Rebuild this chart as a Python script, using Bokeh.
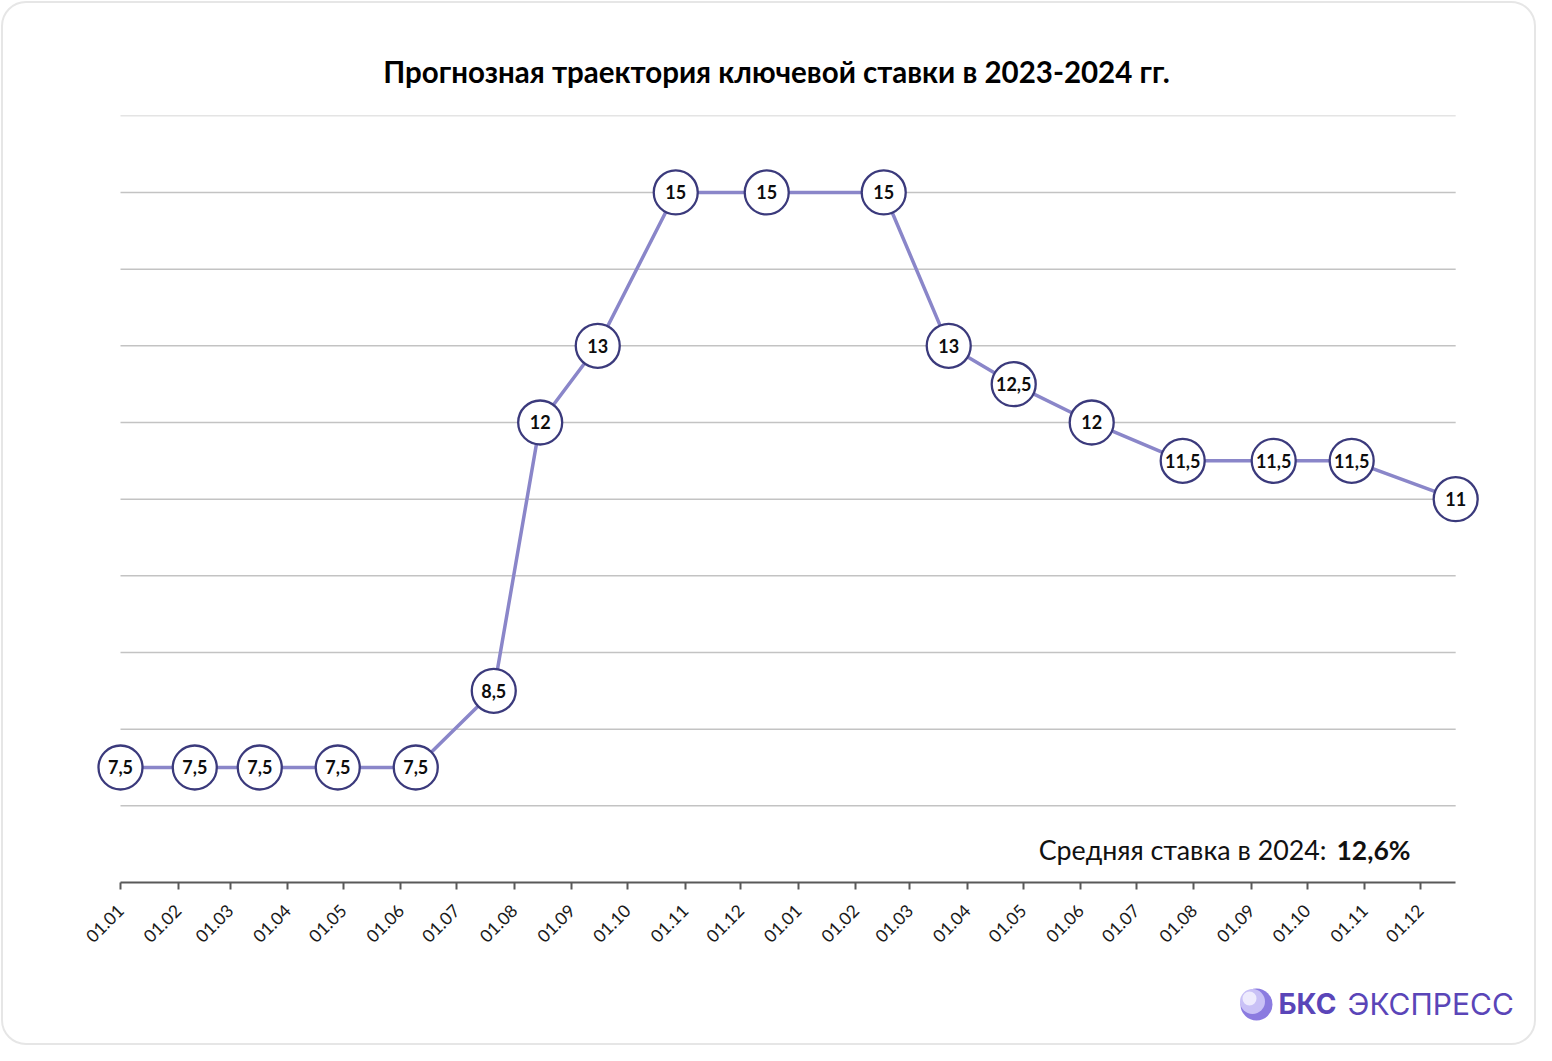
import pandas as pd
from math import pi
from bokeh.plotting import figure
from bokeh.models import Range1d, FixedTicker, DatetimeTickFormatter, Label, ColumnDataSource
from bokeh.core.properties import value
from bokeh.embed import file_html
from bokeh.resources import INLINE

# ---------------- data ----------------
dates = ["2023-01-01", "2023-02-10", "2023-03-17", "2023-04-28", "2023-06-09",
         "2023-07-21", "2023-08-15", "2023-09-15", "2023-10-27", "2023-12-15",
         "2024-02-16", "2024-03-22", "2024-04-26", "2024-06-07", "2024-07-26",
         "2024-09-13", "2024-10-25", "2024-12-20"]
rates = [7.5, 7.5, 7.5, 7.5, 7.5, 8.5, 12, 13, 15, 15, 15, 13, 12.5, 12, 11.5, 11.5, 11.5, 11]
rate_labels = ["7,5", "7,5", "7,5", "7,5", "7,5", "8,5", "12", "13", "15", "15",
               "15", "13", "12,5", "12", "11,5", "11,5", "11,5", "11"]
tick_dates = ["2023-01-01", "2023-02-01", "2023-03-01", "2023-04-01", "2023-05-01", "2023-06-01",
              "2023-07-01", "2023-08-01", "2023-09-01", "2023-10-01", "2023-11-01", "2023-12-01",
              "2024-01-01", "2024-02-01", "2024-03-01", "2024-04-01", "2024-05-01", "2024-06-01",
              "2024-07-01", "2024-08-01", "2024-09-01", "2024-10-01", "2024-11-01", "2024-12-01"]
grid_levels = [7, 8, 9, 10, 11, 12, 13, 14, 15]
top_level = [16]
axis_level = 6
title_text = "Прогнозная траектория ключевой ставки в 2023-2024 гг."
avg_text = "Средняя ставка в 2024:"
avg_value = "12,6%"
brand_bold = "БКС"
brand_light = "ЭКСПРЕСС"

# ---------------- helpers (layout) ----------------
W, H = 1536, 1045

def ms(d):
    return pd.Timestamp(d).value / 1e6

T0 = ms("2023-01-01")
PPD = 1.857      # px per day
X0 = 120         # px of 2023-01-01
PPU = 76.67      # px per rate unit
Y0 = 882         # px of rate 6

def fx(px):
    return T0 + (px - X0) / PPD * 86400000.0

def fy(py):
    return axis_level + (Y0 - py) / PPU

xs = [ms(d) for d in dates]
x_first, x_last = xs[0], xs[-1]

src = ColumnDataSource(dict(x=xs, y=rates, label=rate_labels))

p = figure(width=W, height=H, x_axis_type="datetime", y_axis_location=None,
           x_range=Range1d(fx(0), fx(W)), y_range=Range1d(fy(H), fy(0)),
           output_backend="svg", toolbar_location=None, min_border=0)
p.outline_line_color = None
p.background_fill_color = "white"
p.border_fill_color = "white"
p.xgrid.visible = False
p.ygrid.visible = False

# rounded frame
p.quad(left=fx(1.5), right=fx(W - 1.5), top=fy(1.5), bottom=fy(H - 1.5), fill_color=None,
       line_color="#e6e6e6", line_width=2, border_radius=24)

# grid lines
p.segment(x0=[x_first] * len(grid_levels), x1=[x_last] * len(grid_levels),
          y0=grid_levels, y1=grid_levels, line_color="#c3c3c3", line_width=1.5)
p.segment(x0=[x_first], x1=[x_last], y0=top_level, y1=top_level,
          line_color="#e4e4e4", line_width=1.5)

# axis
ax = p.xaxis[0]
ax.fixed_location = axis_level
ax.bounds = (x_first, x_last)
ax.ticker = FixedTicker(ticks=[ms(d) for d in tick_dates])
fmt = "%d.%m"
ax.formatter = DatetimeTickFormatter(microseconds=fmt, milliseconds=fmt, seconds=fmt,
                                     minsec=fmt, minutes=fmt, hourmin=fmt, hours=fmt,
                                     days=fmt, months=fmt, years=fmt,
                                     strip_leading_zeros=False)
ax.axis_line_color = "#595959"
ax.axis_line_width = 2
ax.major_tick_line_color = "#595959"
ax.major_tick_line_width = 2
ax.major_tick_out = 7
ax.major_tick_in = 0
ax.minor_tick_line_color = None
ax.major_label_orientation = pi / 4
ax.major_label_text_font = "Lato"
ax.major_label_text_font_size = "17.5px"
ax.major_label_text_color = "#1a1a1a"
ax.major_label_standoff = 18

# series
p.line(x="x", y="y", source=src, line_color="#8a86c9", line_width=3.5)
p.scatter(x="x", y="y", source=src, marker="circle", size=44, fill_color="white",
          line_color="#3b3a7c", line_width=2.3)
p.text(x="x", y="y", text="label", source=src, text_align="center", text_baseline="middle",
       text_font=value("Lato"), text_font_style="bold", text_font_size="18px", text_color="#0d0d0d")

# title
p.add_layout(Label(x=fx(776), y=fy(71), text=title_text, text_align="center",
                   text_baseline="middle", text_font="Lato", text_font_style="bold",
                   text_font_size="29.5px", text_color="#000000"))

# average annotation
p.add_layout(Label(x=fx(1326), y=fy(849), text=avg_text, text_align="right",
                   text_baseline="middle", text_font="Lato", text_font_size="26.8px",
                   text_color="#111111"))
p.add_layout(Label(x=fx(1336), y=fy(849), text=avg_value, text_align="left",
                   text_baseline="middle", text_font="Lato", text_font_style="bold",
                   text_font_size="26.5px", text_color="#111111"))

# logo
p.scatter(x=[fx(1256)], y=[fy(1004)], marker="circle", size=32, fill_color="#8b7be0", line_color=None)
p.scatter(x=[fx(1252)], y=[fy(1001)], marker="circle", size=25, fill_color="#c9c1f6", line_color=None)
p.scatter(x=[fx(1249)], y=[fy(998)], marker="circle", size=14, fill_color="#eeebfd", line_color=None)
p.add_layout(Label(x=fx(1278), y=fy(1003), text=brand_bold, text_align="left",
                   text_baseline="middle", text_font="Inter", text_font_style="bold",
                   text_font_size="28px", text_color="#5a45b8"))
p.add_layout(Label(x=fx(1347), y=fy(1003), text=brand_light, text_align="left",
                   text_baseline="middle", text_font="Inter", text_font_size="30px",
                   text_color="#5a45b8"))

open("out.html", "w").write(file_html(p, INLINE))
